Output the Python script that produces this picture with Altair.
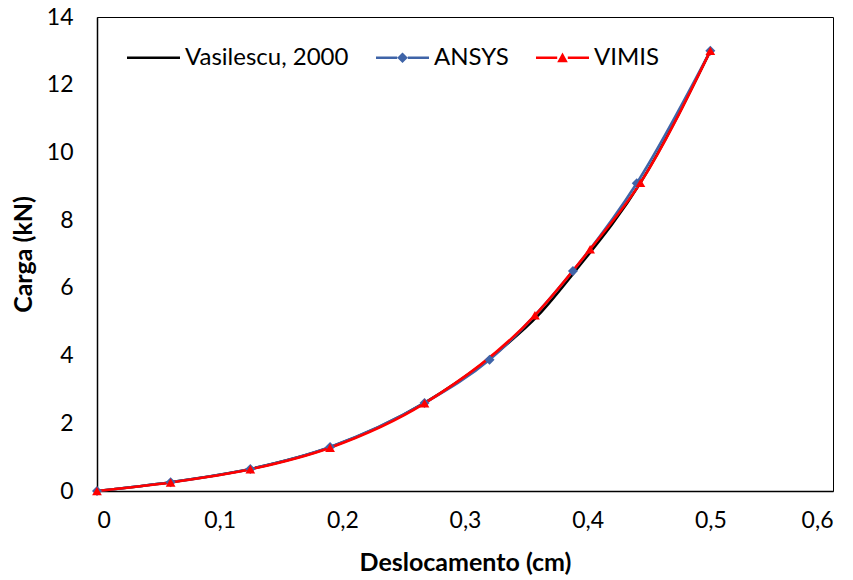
import altair as alt
import pandas as pd

# Data
vas_x = [0, 0.06, 0.125, 0.19, 0.267, 0.32, 0.36, 0.39, 0.443, 0.5]
vas_y = [0, 0.26, 0.65, 1.29, 2.6, 3.92, 5.2, 6.5, 9.1, 13.0]

ansys_x = [0, 0.06, 0.125, 0.19, 0.267, 0.32, 0.388, 0.44, 0.5]
ansys_y = [0, 0.26, 0.65, 1.3, 2.6, 3.88, 6.5, 9.09, 13.0]

vimis_x = [0, 0.06, 0.125, 0.19, 0.267, 0.357, 0.402, 0.443, 0.5]
vimis_y = [0, 0.25, 0.64, 1.28, 2.59, 5.19, 7.14, 9.1, 13.0]

series_names = ["Vasilescu, 2000", "ANSYS", "VIMIS"]
series_colors = ["#000000", "#3F64A8", "#FF0000"]
x_ticks = [0, 0.1, 0.2, 0.3, 0.4, 0.5, 0.6]
y_ticks = [0, 2, 4, 6, 8, 10, 12, 14]

def frame(name, xs, ys):
    return pd.DataFrame({"x": xs, "y": ys, "series": name})

df = pd.concat([
    frame(series_names[0], vas_x, vas_y),
    frame(series_names[1], ansys_x, ansys_y),
    frame(series_names[2], vimis_x, vimis_y),
], ignore_index=True)

color_scale = alt.Scale(domain=series_names, range=series_colors)

# legend symbols: line segment (thin filled bar) with marker in the middle
legend_paths = [
    "M-1,-0.045H1V0.045H-1Z",
    "M-1,-0.045H-0.2V0.045H-1Z M0.2,-0.045H1V0.045H0.2Z M0,-0.2L0.2,0L0,0.2L-0.2,0Z",
    "M-1,-0.045H-0.2V0.045H-1Z M0.2,-0.045H1V0.045H0.2Z M0,-0.2L0.2,0.17L-0.2,0.17Z",
]

X = alt.X("x:Q", scale=alt.Scale(domain=[0, 0.6], nice=False),
          axis=alt.Axis(values=x_ticks, title="Deslocamento (cm)",
                        labelExpr="datum.value == 0 ? '0' : replace(format(datum.value, '.1f'), '.', ',')"))
Y = alt.Y("y:Q", scale=alt.Scale(domain=[0, 14], nice=False),
          axis=alt.Axis(values=y_ticks, title="Carga (kN)"))

base = alt.Chart(df)

legend_layer = base.mark_point(filled=True, size=0, strokeWidth=0, opacity=1).encode(
    x=X, y=Y,
    color=alt.Color("series:N", scale=color_scale,
                    legend=alt.Legend(title=None, orient="none", direction="horizontal",
                                      legendX=30, legendY=14, symbolSize=2809,
                                      symbolOpacity=1, symbolStrokeWidth=0,
                                      labelFont="Lato", labelFontSize=24,
                                      labelColor="#000", columnPadding=27,
                                      labelOffset=5, labelLimit=400)),
    shape=alt.Shape("series:N", scale=alt.Scale(domain=series_names, range=legend_paths)),
)

lines = base.mark_line(strokeWidth=2.6, interpolate="monotone").encode(
    x=X, y=Y,
    color=alt.Color("series:N", scale=color_scale, legend=None),
    detail="series:N",
    order=alt.Order("x:Q"),
)

ansys_pts = base.transform_filter(alt.datum.series == "ANSYS").mark_point(
    shape="diamond", filled=True, size=100, opacity=1).encode(
    x=X, y=Y, color=alt.Color("series:N", scale=color_scale, legend=None))

vimis_pts = base.transform_filter(alt.datum.series == "VIMIS").mark_point(
    shape="triangle-up", filled=True, size=95, opacity=1).encode(
    x=X, y=Y, color=alt.Color("series:N", scale=color_scale, legend=None))

chart = alt.layer(legend_layer, lines, ansys_pts, vimis_pts).properties(
    width=736, height=474,
    autosize=alt.AutoSizeParams(type="none"),
    padding={"left": 97, "top": 17, "right": 20, "bottom": 89},
).configure_view(
    stroke="#000", strokeWidth=1
).configure_axis(
    grid=False, ticks=False, domainColor="#000", domainWidth=1.5,
    labelFont="Lato", labelFontSize=23, labelColor="#000",
    titleFont="Lato", titleFontSize=25, titleFontWeight="bold", titleColor="#000",
).configure_axisX(
    labelPadding=18, titlePadding=18
).configure_axisY(
    labelPadding=24, titlePadding=10
)

chart.save("out.html", embed_options={"renderer": "svg", "actions": False})
